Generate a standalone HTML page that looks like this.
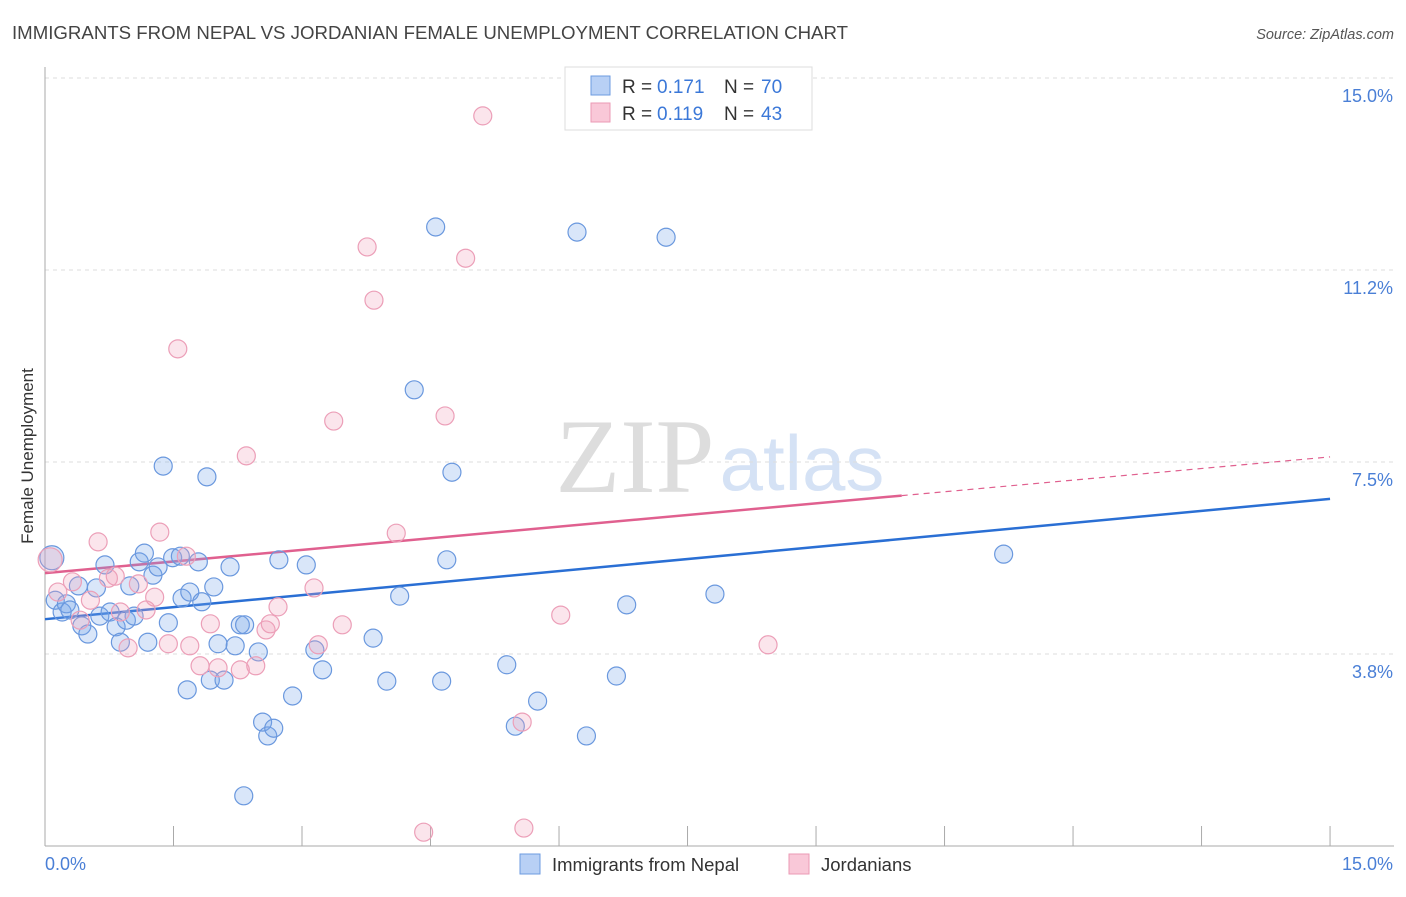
<!DOCTYPE html>
<html><head><meta charset="utf-8"><style>
body{margin:0;background:#fff;font-family:"Liberation Sans",sans-serif;}
svg text{font-family:"Liberation Sans",sans-serif;}
</style></head><body>
<svg width="1406" height="892" viewBox="0 0 1406 892" id="chart">
<text x="12" y="39" font-size="18.5" fill="#444" textLength="836" lengthAdjust="spacingAndGlyphs">IMMIGRANTS FROM NEPAL VS JORDANIAN FEMALE UNEMPLOYMENT CORRELATION CHART</text>
<text x="1394" y="39" font-size="14.5" fill="#555" text-anchor="end" font-style="italic">Source: ZipAtlas.com</text>
<text x="635" y="492" font-size="106" fill="#ddd" text-anchor="middle" style="font-family:'Liberation Serif',serif">ZIP</text>
<text x="802" y="490" font-size="78" fill="#d5e2f5" text-anchor="middle">atlas</text>
<g id="grid"></g><g id="axes"></g><g id="lines"></g><g id="pts"></g>
<text transform="translate(33,456) rotate(-90)" font-size="17" fill="#333" text-anchor="middle">Female Unemployment</text>
<g>
<rect x="565" y="67" width="247" height="63" fill="#fff" stroke="#ddd"/>
<rect x="591" y="76" width="19" height="19" fill="#b8d0f5" stroke="#6d9be0"/>
<rect x="591" y="103" width="19" height="19" fill="#f9c8d8" stroke="#eb9ab5"/>
<text x="622" y="93" font-size="19" fill="#333">R =</text><text x="657" y="93" font-size="19" fill="#3b78d8">0.171</text>
<text x="724" y="93" font-size="19" fill="#333">N =</text><text x="761" y="93" font-size="19" fill="#3b78d8">70</text>
<text x="622" y="120" font-size="19" fill="#333">R =</text><text x="657" y="120" font-size="19" fill="#3b78d8">0.119</text>
<text x="724" y="120" font-size="19" fill="#333">N =</text><text x="761" y="120" font-size="19" fill="#3b78d8">43</text>
</g>
<g>
<rect x="520" y="854" width="20" height="20" fill="#b8d0f5" stroke="#6d9be0"/>
<text x="552" y="871" font-size="18.5" fill="#333">Immigrants from Nepal</text>
<rect x="789" y="854" width="20" height="20" fill="#f9c8d8" stroke="#eb9ab5"/>
<text x="821" y="871" font-size="18.5" fill="#333">Jordanians</text>
</g>
</svg>
<script>
const blueX=[.08,.12,.20,.25,.29,.39,.43,.50,.60,.64,.70,.76,.83,.88,.95,.99,1.04,1.10,1.16,1.20,1.26,1.32,1.38,1.44,1.49,1.58,1.60,1.66,1.69,1.79,1.83,1.89,1.93,1.97,2.02,2.09,2.16,2.22,2.28,2.33,2.32,2.49,2.54,2.60,2.67,2.73,2.89,3.05,3.15,3.24,3.83,3.99,4.14,4.31,4.56,4.63,4.69,4.75,5.39,5.49,5.75,6.21,6.32,6.67,6.79,7.25,7.82,11.19];
const blueY=[5.63,4.80,4.57,4.73,4.61,5.08,4.30,4.14,5.04,4.49,5.49,4.57,4.28,3.98,4.41,5.08,4.49,5.55,5.72,3.98,5.29,5.45,7.42,4.36,5.63,5.66,4.84,3.05,4.96,5.55,4.77,7.21,3.24,5.06,3.95,3.24,5.45,3.91,4.32,4.32,0.98,3.79,2.42,2.15,2.30,5.59,2.93,5.49,3.83,3.44,4.06,3.22,4.88,8.91,12.09,3.22,5.59,7.30,3.54,2.34,2.83,11.99,2.15,3.32,4.71,11.89,4.92,5.70];
const pinkX=[.06,.15,.32,.41,.53,.62,.74,.82,.88,.97,1.09,1.18,1.28,1.34,1.44,1.55,1.65,1.69,1.81,1.93,2.02,2.28,2.35,2.46,2.58,2.63,2.72,3.14,3.19,3.37,3.47,3.76,3.84,4.10,4.42,4.67,4.91,5.11,5.57,5.59,6.02,8.44];
const pinkY=[5.59,4.96,5.16,4.41,4.80,5.94,5.23,5.27,4.57,3.87,5.12,4.61,4.86,6.13,3.95,9.71,5.66,3.91,3.52,4.34,3.48,3.44,7.62,3.52,4.22,4.34,4.67,5.04,3.93,8.30,4.32,11.70,10.66,6.11,0.27,8.40,11.48,14.26,2.42,0.35,4.51,3.93];
const blueTrend=[4.43,6.78];
const pinkTrend=[5.33,7.60];
const pinkSolidEnd=10.0;
const yTicks=[3.8,7.5,11.2,15.0];
const yTickLabels=["3.8%","7.5%","11.2%","15.0%"];
const xTickCount=10;
const NS="http://www.w3.org/2000/svg";
const X=v=>45+v*85.67, Y=v=>846-v*51.2;
function mk(t,a,p){const e=document.createElementNS(NS,t);for(const k in a)e.setAttribute(k,a[k]);document.getElementById(p).appendChild(e);return e;}
yTicks.forEach((t,i)=>{
 const yy=846-(i+1)*192;
 const g=mk('line',{x1:45,x2:1394,y1:yy,y2:yy,stroke:'#ddd','stroke-dasharray':'4,4'},'grid');
 
 
 const tx=mk('text',{x:1393,y:yy+24,'font-size':18,fill:'#4a7fd6','text-anchor':'end'},'grid');
 tx.textContent=yTickLabels[i];
 
 
});
mk('line',{x1:45,x2:45,y1:67,y2:846,stroke:'#aaa'},'axes');
mk('line',{x1:45,x2:1394,y1:846,y2:846,stroke:'#aaa'},'axes');
for(let i=1;i<=xTickCount;i++){const xx=X(i*1.5);const l=mk('line',{x1:xx,x2:xx,y1:826,y2:846,stroke:'#aaa'},'axes');
 
 }
let t1=mk('text',{x:45,y:870,'font-size':18,fill:'#4a7fd6'},'axes');t1.textContent='0.0%';


let t2=mk('text',{x:1393,y:870,'font-size':18,fill:'#4a7fd6','text-anchor':'end'},'axes');t2.textContent='15.0%';


function dots(xs,ys,fill,stroke,name){xs.forEach((v,i)=>{const c=mk('circle',{cx:X(v),cy:Y(ys[i]),r:i==0?12:9,fill:fill,stroke:stroke,'stroke-width':1.2},'pts');
 
 });}
dots(blueX,blueY,'rgba(120,165,235,0.28)','#6a98de','point-nepal');
dots(pinkX,pinkY,'rgba(240,160,188,0.28)','#ec9fb8','point-jordanian');
const bl=mk('line',{x1:X(0),y1:Y(blueTrend[0]),x2:X(15),y2:Y(blueTrend[1]),stroke:'#2a6fd4','stroke-width':2.5},'lines');


const ps=pinkTrend[0]+(pinkTrend[1]-pinkTrend[0])*pinkSolidEnd/15;
const pl=mk('line',{x1:X(0),y1:Y(pinkTrend[0]),x2:X(pinkSolidEnd),y2:Y(ps),stroke:'#e0608f','stroke-width':2.5},'lines');


const pd=mk('line',{x1:X(pinkSolidEnd),y1:Y(ps),x2:X(15),y2:Y(pinkTrend[1]),stroke:'#e0608f','stroke-width':1.2,'stroke-dasharray':'6,5'},'lines');


</script>
</body></html>
